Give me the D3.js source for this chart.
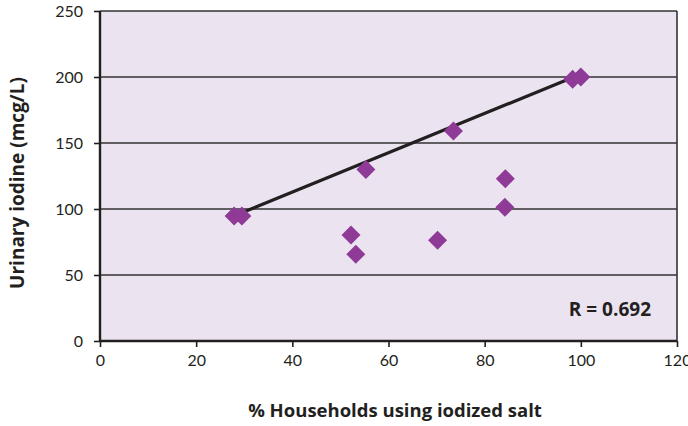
<!DOCTYPE html>
<html><head><meta charset="utf-8">
<script src="https://cdn.jsdelivr.net/npm/d3@7"></script>
<style>
html,body{margin:0;padding:0;background:#fff;}
svg{display:block;font-family:Lato,"Open Sans",sans-serif;}
</style></head>
<body><svg id="c" width="688" height="426"></svg>
<script>
const householdsPct = [27.9, 29.5, 55.3, 73.5, 52.2, 53.2, 70.2, 84.3, 84.2, 98.3, 100];
const urinaryIodine = [94.7, 94.7, 130, 159, 80.3, 65.7, 76.3, 123, 101.3, 198.3, 200];
const trendX = [29.5, 97.4];
const trendY = [97.2, 198.3];
const xTicks = [0, 20, 40, 60, 80, 100, 120];
const yTicks = [0, 50, 100, 150, 200, 250];
const rLabel = "R = 0.692";
const xTitle = "% Households using iodized salt";
const yTitle = "Urinary iodine (mcg/L)";

const svg = d3.select("#c");
const L = 100, R = 677, T = 11, B = 341;
const x = d3.scaleLinear().domain([0,120]).range([L,R]);
const y = d3.scaleLinear().domain([0,250]).range([B,T]);
const ink = "#231f20";

svg.append("rect").attr("x",L).attr("y",T).attr("width",R-L).attr("height",B-T).attr("fill","#ebe3f0");

svg.append("g").selectAll("line").data(yTicks.filter(d=>d>0)).join("line")
  .attr("x1",L).attr("x2",R).attr("y1",d=>y(d)).attr("y2",d=>y(d))
  .attr("stroke","#333").attr("stroke-width",1.6);
svg.append("line").attr("x1",R).attr("x2",R).attr("y1",T).attr("y2",B).attr("stroke","#333").attr("stroke-width",1.6);

const xAxis = svg.append("g").attr("transform",`translate(0,${B})`)
  .call(d3.axisBottom(x).tickValues(xTicks).tickSize(6).tickPadding(8).tickFormat(d3.format("d")));
const yAxis = svg.append("g").attr("transform",`translate(${L},0)`)
  .call(d3.axisLeft(y).tickValues(yTicks).tickSize(6).tickPadding(11).tickFormat(d3.format("d")));
[xAxis,yAxis].forEach(g=>{
  g.select(".domain").attr("stroke",ink).attr("stroke-width",2.4);
  g.selectAll(".tick line").attr("stroke",ink).attr("stroke-width",1.6);
  g.selectAll("text").attr("font-size",16).attr("fill",ink).attr("font-family","Lato,sans-serif");
});
xAxis.select(".domain").attr("d",`M${L},0H${R}`);
yAxis.select(".domain").attr("d",`M0,${T}V${B}`);

svg.append("line")
  .attr("x1",x(trendX[0])).attr("y1",y(trendY[0]))
  .attr("x2",x(trendX[1])).attr("y2",y(trendY[1]))
  .attr("stroke",ink).attr("stroke-width",3.2);

const pts = householdsPct.map((v,i)=>({x:v,y:urinaryIodine[i]}));
svg.append("g").selectAll("path").data(pts).join("path")
  .attr("transform",d=>`translate(${x(d.x)},${y(d.y)})`)
  .attr("d","M0,-9.5L9.5,0L0,9.5L-9.5,0Z")
  .attr("fill","#8e3a96");

function fit(t, w){
  const len = t.node().getComputedTextLength();
  const fs = parseFloat(t.attr("font-size"));
  t.attr("font-size", Math.min(fs*w/len, 19));
}
const boldFont = "'Open Sans',Lato,sans-serif";
const rt = svg.append("text").attr("x",651).attr("y",316).attr("text-anchor","end")
  .attr("font-family",boldFont).attr("font-size",15).attr("font-weight","bold").attr("fill",ink).text(rLabel);
fit(rt, 84);
const xt = svg.append("text").attr("x",395).attr("y",417).attr("text-anchor","middle")
  .attr("font-family",boldFont).attr("font-size",15).attr("font-weight","bold").attr("fill",ink).text(xTitle);
fit(xt, 294);
const yt = svg.append("text").attr("transform","translate(24,183) rotate(-90)").attr("text-anchor","middle")
  .attr("font-family",boldFont).attr("font-size",15).attr("font-weight","bold").attr("fill",ink).text(yTitle);
fit(yt, 220);
</script></body></html>
